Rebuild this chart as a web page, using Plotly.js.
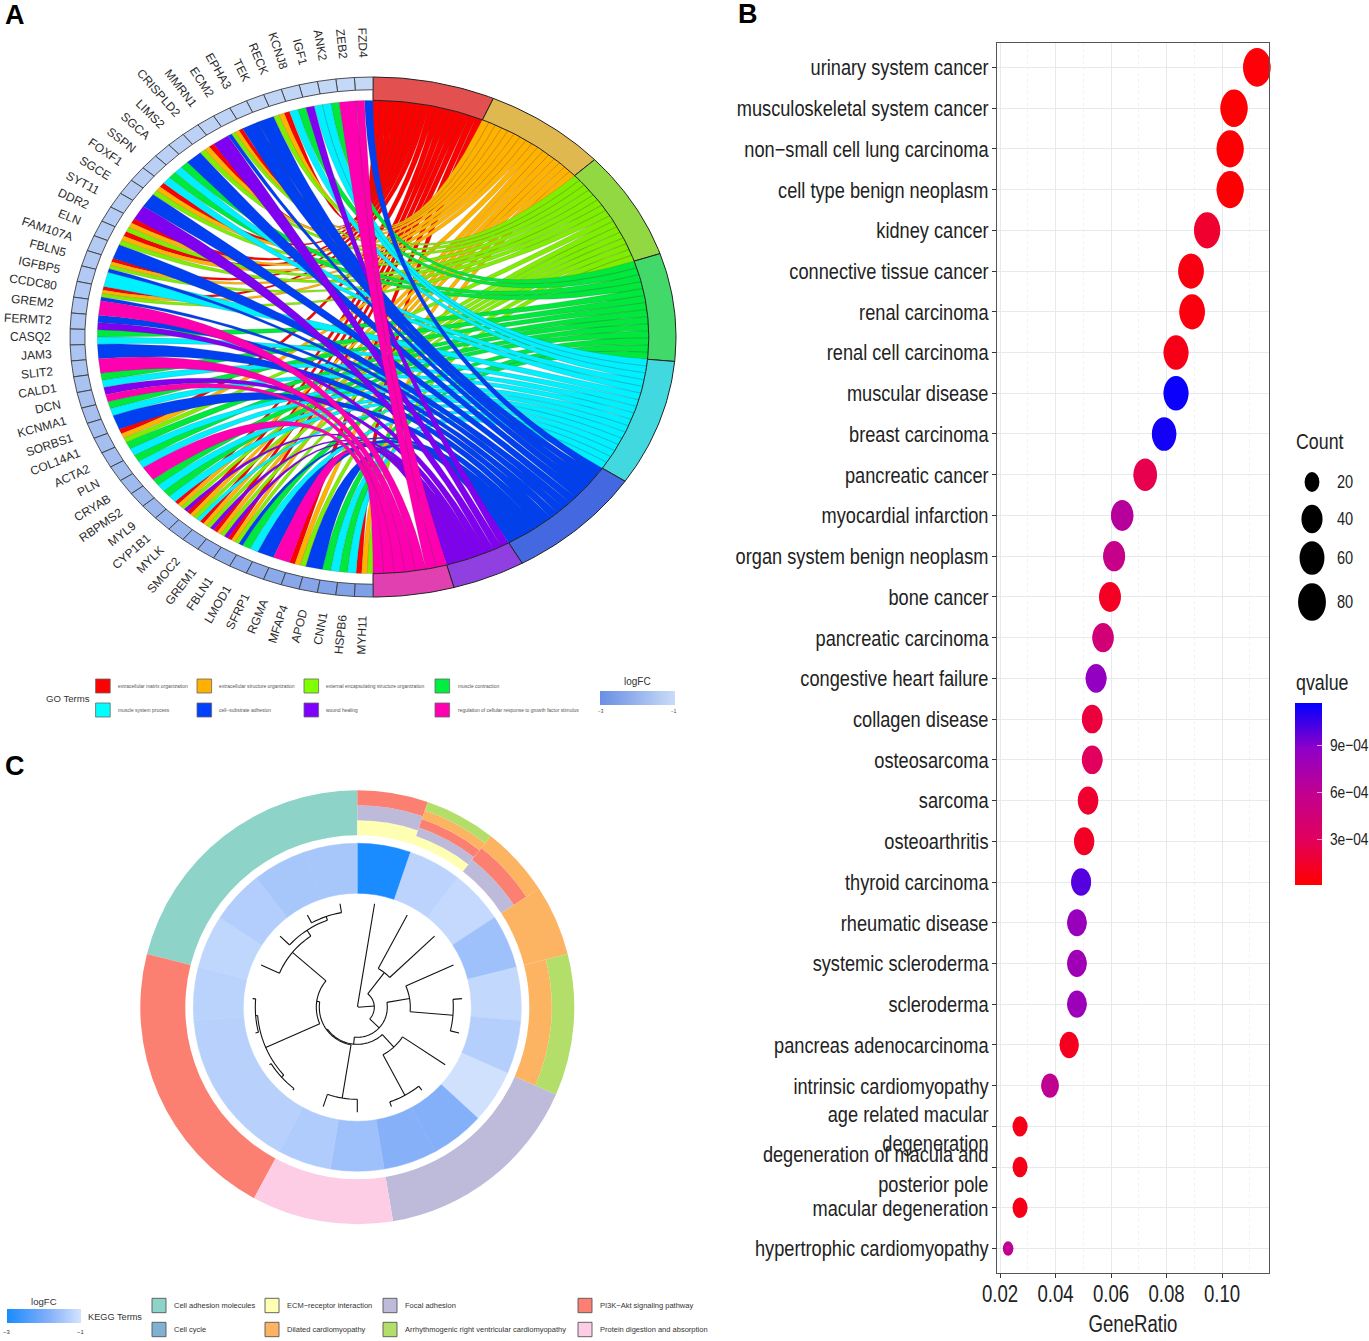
<!DOCTYPE html>
<html>
<head>
<meta charset="utf-8">
<script src="https://cdn.plot.ly/plotly-3.0.1.min.js"></script>
<style>html,body{margin:0;padding:0;background:#fff}#c{width:1369px;height:1341px}</style>
</head>
<body>
<div id="c"></div>
<script>
/* ---------- Panel A data ---------- */
const goTerms = ["extracellular matrix organization","extracellular structure organization","external encapsulating structure organization","muscle contraction","muscle system process","cell−substrate adhesion","wound healing","regulation of cellular response to growth factor stimulus"];
const goRibbonColors = ["#ff0000","#ffb300","#80ee00","#00e83c","#00f0ff","#0040f0","#8000f0","#ff00b0"];
const goRingColors = ["#e25050","#e0b850","#92d843","#42d86a","#42d8e0","#4468e0","#9040e0","#e040b0"];
const goSwatchColors = ["#ff0000","#ffb000","#80ff00","#00ee40","#00ffff","#0040ff","#8000ff","#ff00b0"];
const goTermWeights = [23.4,23.6,24.3,24.1,28.3,26.8,14,15.5];
const goGenes = ["FZD4","ZEB2","ANK2","IGF1","KCNJ8","RECK","TEK","EPHA3","ECM2","MMRN1","CRISPLD2","LIMS2","SGCA","SSPN","FOXF1","SGCE","SYT11","DDR2","ELN","FAM107A","FBLN5","IGFBP5","CCDC80","GREM2","FERMT2","CASQ2","JAM3","SLIT2","CALD1","DCN","KCNMA1","SORBS1","COL14A1","ACTA2","PLN","CRYAB","RBPMS2","MYL9","CYP1B1","MYLK","SMOC2","GREM1","FBLN1","LMOD1","SFRP1","RGMA","MFAP4","APOD","CNN1","HSPB6","MYH11"];
/* term indices: 0 ECM, 1 structure, 2 external, 3 contraction, 4 system, 5 adhesion, 6 wound, 7 growth factor */
const goGeneTerms = [[5,7],[7],[3,4],[4,6],[3,4],[0,1,2],[5],[5],[0,1,2,5],[6],[0,1,2],[5],[3,4],[3,4],[0,1,2],[5],[6],[0,1,2],[0,1,2],[5],[0,1,2,5],[4],[0,1,2,5],[7],[5,6],[3,4],[5],[7],[3,4],[6,7],[3,4],[5],[0,1,2],[3,4],[3,4],[7],[3,4],[3,4],[0,1,2,6],[0,1,2,4],[0,1,2,6],[0,1,2,6],[0,1,2,5],[3,4],[5],[7],[0,1,2],[5],[3,4],[3,4],[0,1,2]];
const goLogFC = [-1.08,-1.1,-1.12,-1.14,-1.16,-1.18,-1.2,-1.22,-1.24,-1.26,-1.28,-1.3,-1.32,-1.34,-1.36,-1.38,-1.4,-1.42,-1.44,-1.46,-1.48,-1.5,-1.52,-1.54,-1.56,-1.6,-1.62,-1.65,-1.68,-1.7,-1.72,-1.75,-1.78,-1.8,-1.84,-1.88,-1.92,-1.96,-2.0,-2.05,-2.1,-2.14,-2.18,-2.22,-2.27,-2.3,-2.35,-2.4,-2.45,-2.5,-2.56];

/* ---------- Panel B data ---------- */
const diseases = ["urinary system cancer","musculoskeletal system cancer","non−small cell lung carcinoma","cell type benign neoplasm","kidney cancer","connective tissue cancer","renal carcinoma","renal cell carcinoma","muscular disease","breast carcinoma","pancreatic cancer","myocardial infarction","organ system benign neoplasm","bone cancer","pancreatic carcinoma","congestive heart failure","collagen disease","osteosarcoma","sarcoma","osteoarthritis","thyroid carcinoma","rheumatic disease","systemic scleroderma","scleroderma","pancreas adenocarcinoma","intrinsic cardiomyopathy","age related macular<br>degeneration","degeneration of macula and<br>posterior pole","macular degeneration","hypertrophic cardiomyopathy"];
const geneRatio = [0.1126,0.1043,0.1029,0.1029,0.0946,0.0888,0.0892,0.0834,0.0834,0.0791,0.0723,0.064,0.0611,0.0596,0.0571,0.0546,0.0532,0.0532,0.0517,0.0503,0.0492,0.0477,0.0477,0.0477,0.0449,0.038,0.0272,0.0272,0.0272,0.0229];
const counts = [81,75,74,74,68,64,64,60,60,57,52,46,44,43,41,39,38,38,37,36,35,34,34,34,32,27,20,20,20,16];
const qvalues = [0.00003,0.00002,0.00002,0.00002,0.00015,0.00006,0.00005,0.00008,0.00115,0.00113,0.00025,0.00065,0.00055,0.00012,0.00045,0.00085,0.0002,0.0003,0.00015,0.00012,0.001,0.00082,0.00078,0.0008,0.0001,0.0006,0.00008,0.00008,0.00008,0.0006];
const countLegend = [20,40,60,80];
const qTickVals = [0.0003,0.0006,0.0009];
const qTickText = ["3e−04","6e−04","9e−04"];
const xTickVals = [0.02,0.04,0.06,0.08,0.10];
const xTickText = ["0.02","0.04","0.06","0.08","0.10"];

/* ---------- Panel C data ---------- */
const keggTerms = ["Cell adhesion molecules","ECM−receptor interaction","Focal adhesion","PI3K−Akt signaling pathway","Cell cycle","Dilated cardiomyopathy","Arrhythmogenic right ventricular cardiomyopathy","Protein digestion and absorption"];
const keggColors = ["#8dd3c7","#ffffb3","#bebada","#fb8072","#80b1d3","#fdb462","#b3de69","#fccde5"];
const keggLogFC = [-3,-1.27,-1.18,-1.6,-1.2,-1.35,-1.05,-1.89,-1.86,-1.6,-1.41,-1.32,-1.32,-1.32,-1.29,-1.24,-1.37,-1.5,-1.5];
/* terms of each gene, outermost first */
const keggGeneTerms = [[3,2,1],[6,5,3,2,1],[5,3,2],[5],[6,5],[6,5],[2],[2],[2],[7],[7],[3],[3],[3],[3],[0],[0],[0],[0]];
/* dendrogram: [merge radius, children...]; a bare number is a leaf */
const keggTree = [1,0,[17,[44,1,2],[30,[53,3,[96,4,5]],[37,[54,6,[100,7,8]],[38,[92,9,10],[41,[100,[103,11,12],[102,13,14]],[85,15,[92,16,[96,17,18]]]]]]]]];

/* ---------- helpers ---------- */
const W = 1369, H = 1341;
const xd = (a,b)=>[a/W,b/W];
const yd = (t,b)=>[1-b/H,1-t/H];
const px = x=>x/W, py = y=>1-y/H;
const SANS = '"Liberation Sans",Arial,sans-serif';
const rad = d=>d*Math.PI/180;
const hex = c=>[1,3,5].map(i=>parseInt(c.substr(i,2),16));
function mix(a,b,t){const A=hex(a),B=hex(b);return 'rgb('+A.map((v,i)=>Math.round(v+(B[i]-v)*t)).join(',')+')';}
function scale(stops,t){t=Math.max(0,Math.min(1,t));
  for(let i=1;i<stops.length;i++){ if(t<=stops[i][0]){const s=stops[i-1],e=stops[i];return mix(s[1],e[1],(t-s[0])/(e[0]-s[0]));}}
  return stops[stops.length-1][1];}

const traces=[], shapes=[], annotations=[];
function note(x,y,text,size,opts){annotations.push(Object.assign({xref:'paper',yref:'paper',x:px(x),y:py(y),text,showarrow:false,xanchor:'left',yanchor:'middle',borderpad:0,font:{family:SANS,size,color:'#333'}},opts||{}));}

/* ---------- Panel A: chord ---------- */
const ACX=373, ACY=337, ARX=303, ARY=260;
const pol=(deg,r)=>[r*Math.sin(rad(deg)),r*Math.cos(rad(deg))];
function arc(a0,a1,r){const n=Math.max(2,Math.ceil(Math.abs(a1-a0)/1)+1),o=[];for(let i=0;i<n;i++){o.push(pol(a0+(a1-a0)*i/(n-1),r));}return o;}
function bez(p,q){const o=[];for(let i=1;i<24;i++){const t=i/24,u=(1-t)*(1-t),v=t*t;o.push([u*p[0]+v*q[0],u*p[1]+v*q[1]]);}return o;}
const GW = 180/goGenes.length, RC=0.91;
const weightSum = goTermWeights.reduce((a,b)=>a+b,0);
let acc=0;
const termSpan = goTermWeights.map(w=>{const s=[acc,acc+w*180/weightSum];acc=s[1];return s;});
const linksByTerm = goTerms.map(()=>[]);
goGeneTerms.forEach((ts,g)=>{
  const top=360-g*GW, w=GW/ts.length;
  ts.forEach((t,i)=>linksByTerm[t].push({hi:top-i*w,lo:top-(i+1)*w}));
});
linksByTerm.forEach((links,t)=>{
  const X=[],Y=[],step=(termSpan[t][1]-termSpan[t][0])/links.length;
  links.forEach((l,i)=>{
    const t0=termSpan[t][0]+i*step,t1=t0+step;
    const pts=[...arc(l.lo,l.hi,RC),...bez(pol(l.hi,RC),pol(t0,RC)),...arc(t0,t1,RC),...bez(pol(t1,RC),pol(l.lo,RC))];
    pts.forEach(p=>{X.push(p[0]);Y.push(p[1]);});X.push(pts[0][0]);Y.push(pts[0][1]);
    X.push(null);Y.push(null);
  });
  traces.push({type:'scatter',mode:'lines',x:X,y:Y,fill:'toself',fillcolor:goRibbonColors[t],line:{color:'rgba(70,70,70,0.35)',width:0.5},hoverinfo:'skip',showlegend:false,xaxis:'x',yaxis:'y',connectgaps:false});
});
function ring(a0,a1,r0,r1,fill,lc,lw){
  const pts=[...arc(a0,a1,r1),...arc(a1,a0,r0)];pts.push(pts[0]);
  traces.push({type:'scatter',mode:'lines',x:pts.map(p=>p[0]),y:pts.map(p=>p[1]),fill:'toself',fillcolor:fill,line:{color:lc,width:lw},hoverinfo:'skip',showlegend:false,xaxis:'x',yaxis:'y'});
}
termSpan.forEach((s,t)=>ring(s[0],s[1],RC,1,goRingColors[t],'#222',1));
const goStops=[[0,'#6a8fe3'],[1,'#c9dcf8']];
const cv=document.createElement('canvas').getContext('2d');
cv.font='12px "Liberation Sans"';
goGenes.forEach((g,i)=>{
  const a0=360-(i+1)*GW,a1=360-i*GW;
  ring(a0,a1,0.951,1,scale(goStops,(goLogFC[i]+3)/2),'#3c3c3c',0.9);
  const m=(a0+a1)/2,sx=Math.sin(rad(m))*ARX,sy=-Math.cos(rad(m))*ARY,L=Math.hypot(sx,sy),dx=sx/L,dy=sy/L;
  const tw=cv.measureText(g).width,off=19+tw/2;
  annotations.push({xref:'x',yref:'y',x:(sx+dx*off)/ARX,y:-(sy+dy*off)/ARY,text:g,showarrow:false,xanchor:'center',yanchor:'middle',textangle:Math.atan2(-dy,-dx)*180/Math.PI,borderpad:0,font:{family:SANS,size:12,color:'#2a2a2a'}});
});
/* legend A */
const gCols=[95.6,197,304,435],gTxt=[117,218,325,457],gRows=[686,710];
goTerms.forEach((t,i)=>{
  const c=i%4,r=Math.floor(i/4);
  shapes.push({type:'rect',xref:'paper',yref:'paper',x0:px(gCols[c]),x1:px(gCols[c]+14.6),y0:py(gRows[r]-7),y1:py(gRows[r]+7),fillcolor:goSwatchColors[i],line:{color:'#666',width:0.8}});
  note(gTxt[c],gRows[r],t,4.95,{font:{family:SANS,size:4.95,color:'#555'}});
});
note(45,698,'GO Terms',9.6);
note(637,681,'logFC',10,{xanchor:'center'});
note(601,711,'−3',4.5,{xanchor:'center'});
note(674,711,'−1',4.5,{xanchor:'center'});
const gradVals=[-3,-2.5,-2,-1.5,-1];
const heatScale=[[0,'#1b8cff'],[0.55,'#82aff9'],[1,'#d5e4fe']];
traces.push({type:'heatmap',x:gradVals,y:[0,1],z:[gradVals,gradVals],zsmooth:'best',zmin:-3,zmax:-1,colorscale:goStops,showscale:false,hoverinfo:'skip',xaxis:'x3',yaxis:'y3'});
traces.push({type:'heatmap',x:gradVals,y:[0,1],z:[gradVals,gradVals],zsmooth:'best',zmin:-3,zmax:-1,colorscale:heatScale,showscale:false,hoverinfo:'skip',xaxis:'x4',yaxis:'y4'});

/* ---------- Panel B: dot plot ---------- */
const qStops=[[0,'#ff0000'],[0.25,'#e1005c'],[0.5,'#c2008f'],[0.75,'#8f00c8'],[1,'#0000ff']];
const qMin=0.000006,qMax=0.00117;
const cMin=16,cMax=81;
const sizeOf=c=>3+5*Math.sqrt(Math.max(0,(c-cMin)/(cMax-cMin)));
const DOTW=3.5,DOTR=1.38;
const nD=diseases.length;
const yIndex=diseases.map((d,i)=>nD-1-i);
traces.push({type:'scatter',mode:'markers',x:geneRatio,y:diseases,xaxis:'x2',yaxis:'y2',hoverinfo:'skip',showlegend:false,cliponaxis:false,
  marker:{size:counts.map(c=>sizeOf(c)*DOTW),color:qvalues,cmin:qMin,cmax:qMax,colorscale:qStops,line:{width:0},
    colorbar:{x:px(1295),xanchor:'left',y:py(885),yanchor:'bottom',len:182,lenmode:'pixels',thickness:27,thicknessmode:'pixels',xpad:0,ypad:0,outlinewidth:0,tickvals:qTickVals,ticktext:qTickText,ticks:'inside',ticklen:5,tickcolor:'rgba(255,255,255,0.65)',tickwidth:1,tickfont:{family:SANS,size:17,color:'#222'}}}});
geneRatio.forEach((g,i)=>{
  const w=sizeOf(counts[i])*DOTW,h=w*DOTR,col=scale(qStops,(qvalues[i]-qMin)/(qMax-qMin));
  shapes.push({type:'circle',xref:'x2',yref:'y2',xsizemode:'pixel',ysizemode:'pixel',xanchor:g,yanchor:yIndex[i],x0:-w/2,x1:w/2,y0:-h/2,y1:h/2,fillcolor:col,line:{width:0},layer:'above'});
});
const lgY=[482,519,558,602];
const CONDENSED=['Count','qvalue','GeneRatio','20','40','60','80'];
countLegend.forEach((c,i)=>{
  const w=sizeOf(c)*3.5,h=w*1.35;
  shapes.push({type:'circle',xref:'paper',yref:'paper',xsizemode:'pixel',ysizemode:'pixel',xanchor:px(1312),yanchor:py(lgY[i]),x0:-w/2,x1:w/2,y0:-h/2,y1:h/2,fillcolor:'#000',line:{width:0}});
  note(1336,lgY[i],String(c),18,{font:{family:SANS,size:18,color:'#222'}});
});
note(1295,442,'Count',22,{font:{family:SANS,size:22,color:'#222'}});
note(1295,682,'qvalue',22,{font:{family:SANS,size:22,color:'#222'}});
note(1133,1324,'GeneRatio',23,{xanchor:'center',font:{family:SANS,size:23,color:'#222'}});

/* ---------- Panel C: circular heat map ---------- */
const KG=360/keggLogFC.length, keggAngle=keggLogFC.map((v,i)=>(i+0.5)*KG);
traces.push({type:'barpolar',subplot:'polar',theta:keggAngle,r:keggLogFC.map(()=>50),base:114,width:keggLogFC.map(()=>KG),
  marker:{color:keggLogFC,cmin:-3,cmax:-1,colorscale:heatScale,line:{width:0.5,color:keggLogFC,cmin:-3,cmax:-1,colorscale:heatScale}},hoverinfo:'skip',showlegend:false});
const OUT0=172,OUT1=217;
keggTerms.forEach((t,k)=>{
  const runs=[];
  keggGeneTerms.forEach((ts,g)=>{
    const h=(OUT1-OUT0)/ts.length,i=ts.indexOf(k);
    if(i<0) return;
    const base=OUT1-(i+1)*h,last=runs[runs.length-1];
    if(last&&last.g1===g-1&&Math.abs(last.base-base)<1e-6&&Math.abs(last.h-h)<1e-6){last.g1=g;}
    else runs.push({g0:g,g1:g,h,base});
  });
  if(runs.length) traces.push({type:'barpolar',subplot:'polar',
    theta:runs.map(r=>(keggAngle[r.g0]+keggAngle[r.g1])/2),r:runs.map(r=>r.h),base:runs.map(r=>r.base),
    width:runs.map(r=>(r.g1-r.g0+1)*KG),marker:{color:keggColors[k],line:{width:0}},hoverinfo:'skip',showlegend:false});
});
const treeR=[],treeT=[],LEAF=105;
function seg(rs,ts){rs.forEach((r,i)=>{treeR.push(r);treeT.push(ts[i]);});treeR.push(null);treeT.push(null);}
function walk(node,parentR){
  if(typeof node==='number'){const a=keggAngle[node];seg([parentR,LEAF],[a,a]);return a;}
  const r=node[0],kids=node.slice(1).map(k=>walk(k,r));
  const lo=Math.min(...kids),hi=Math.max(...kids),n=Math.ceil((hi-lo)/3)+1,rs=[],ts=[];
  for(let i=0;i<=n;i++){rs.push(r);ts.push(lo+(hi-lo)*i/n);}
  seg(rs,ts);
  const m=(lo+hi)/2; if(parentR!==null) seg([parentR,r],[m,m]);
  return m;
}
walk(keggTree,null);
traces.push({type:'scatterpolar',subplot:'polar',mode:'lines',r:treeR,theta:treeT,line:{color:'#111',width:1.1},hoverinfo:'skip',showlegend:false,connectgaps:false});
/* legend C */
const kCols=[152,265,383,578],kTxt=[173,286,404,599],kRows=[1305.5,1329.5];
keggTerms.forEach((t,i)=>{
  const c=i%4,r=Math.floor(i/4);
  shapes.push({type:'rect',xref:'paper',yref:'paper',x0:px(kCols[c]),x1:px(kCols[c]+14),y0:py(kRows[r]-7.2),y1:py(kRows[r]+7.2),fillcolor:keggColors[i],line:{color:'#555',width:0.9}});
  note(kTxt[c],kRows[r],t,7.5);
});
note(87,1317,'KEGG Terms',9.2);
note(44,1301,'logFC',9.6,{xanchor:'center'});
note(7,1332,'−3',6,{xanchor:'center'});
note(81,1332,'−1',6,{xanchor:'center'});

/* panel letters */
[['A',4,15],['B',737,14],['C',4,766]].forEach(l=>note(l[1],l[2],l[0],27,{font:{family:SANS,size:27,color:'#000',weight:700}}));

const hidden={visible:false,fixedrange:true,showgrid:false,zeroline:false};
const layout={
  width:W,height:H,margin:{l:0,r:0,t:0,b:0,autoexpand:false},paper_bgcolor:'#fff',plot_bgcolor:'rgba(0,0,0,0)',showlegend:false,
  xaxis:Object.assign({},hidden,{domain:xd(0,700),range:[-ACX/ARX,(700-ACX)/ARX]}),
  yaxis:Object.assign({},hidden,{domain:yd(0,730),range:[(ACY-730)/ARY,ACY/ARY]}),
  xaxis2:{anchor:'y2',domain:xd(997,1269),range:[0.0189,0.1169],tickvals:xTickVals,ticktext:xTickText,ticks:'outside',ticklen:4,tickcolor:'#333',tickfont:{family:SANS,size:23,color:'#222'},showgrid:true,gridcolor:'#e6e9ee',gridwidth:1,showline:true,mirror:true,linecolor:'#555',linewidth:1,zeroline:false,
    minor:{tickvals:[0.03,0.05,0.07,0.09,0.11],showgrid:true,gridcolor:'#f1f2f4',gridwidth:1,griddash:'dot',ticks:''}},
  yaxis2:{anchor:'x2',domain:yd(43,1273),type:'category',categoryorder:'array',categoryarray:diseases.slice().reverse(),range:[-0.6,nD-0.4],tickmode:'array',tickvals:diseases,ticktext:diseases,ticks:'outside',ticklen:4,tickcolor:'#333',tickfont:{family:SANS,size:22.5,color:'#222'},showgrid:true,gridcolor:'#e6e9ee',showline:true,mirror:true,linecolor:'#555',linewidth:1,zeroline:false},
  xaxis3:Object.assign({},hidden,{anchor:'y3',domain:xd(600,675),range:[-3,-1]}),
  yaxis3:Object.assign({},hidden,{anchor:'x3',domain:yd(691,705),range:[0,1]}),
  xaxis4:Object.assign({},hidden,{anchor:'y4',domain:xd(7,81),range:[-3,-1]}),
  yaxis4:Object.assign({},hidden,{anchor:'x4',domain:yd(1309,1323),range:[0,1]}),
  polar:{domain:{x:xd(139.3,575.3),y:yd(789.3,1225.3)},bgcolor:'rgba(0,0,0,0)',barmode:'overlay',bargap:0,
    radialaxis:{visible:false,range:[0,218]},angularaxis:{visible:false,direction:'clockwise',rotation:90,thetaunit:'degrees'}},
  shapes,annotations
};

/* The reference's panel B uses a condensed type; squeeze its real text horizontally about its anchor. */
cv.font='22.5px "Liberation Sans"';
const SQUEEZE=252/cv.measureText('musculoskeletal system cancer').width;
function squeeze(el,side,shiftX,shiftY){
  const old=el.getAttribute('transform')||'';
  const m=/translate\(\s*([-\d.]+)/.exec(old),tx=m?parseFloat(m[1]):0,b=el.getBBox();
  const A=tx+(side==='right'?b.x+b.width:side==='left'?b.x:b.x+b.width/2);
  el.setAttribute('transform','translate('+(A+(shiftX||0))+','+(shiftY||0)+') scale('+SQUEEZE+',1) translate('+(-A)+',0) '+old);
}
Plotly.newPlot('c',traces,layout,{staticPlot:true,displayModeBar:false}).then(gd=>{
  gd.querySelectorAll('g.y2tick text').forEach(t=>{
    const lines=t.querySelectorAll('tspan.line');
    squeeze(t,'right',1,lines.length>1?2:0);
  });
  gd.querySelectorAll('g.x2tick text').forEach(t=>squeeze(t,'center',0,-4));
  gd.querySelectorAll('.colorbar text').forEach(t=>squeeze(t,'left',4,0));
  gd.querySelectorAll('.annotation-text').forEach(t=>{
    const s=t.textContent;
    if(CONDENSED.includes(s)) squeeze(t,s==='GeneRatio'?'center':'left');
  });
});
</script>
</body>
</html>
